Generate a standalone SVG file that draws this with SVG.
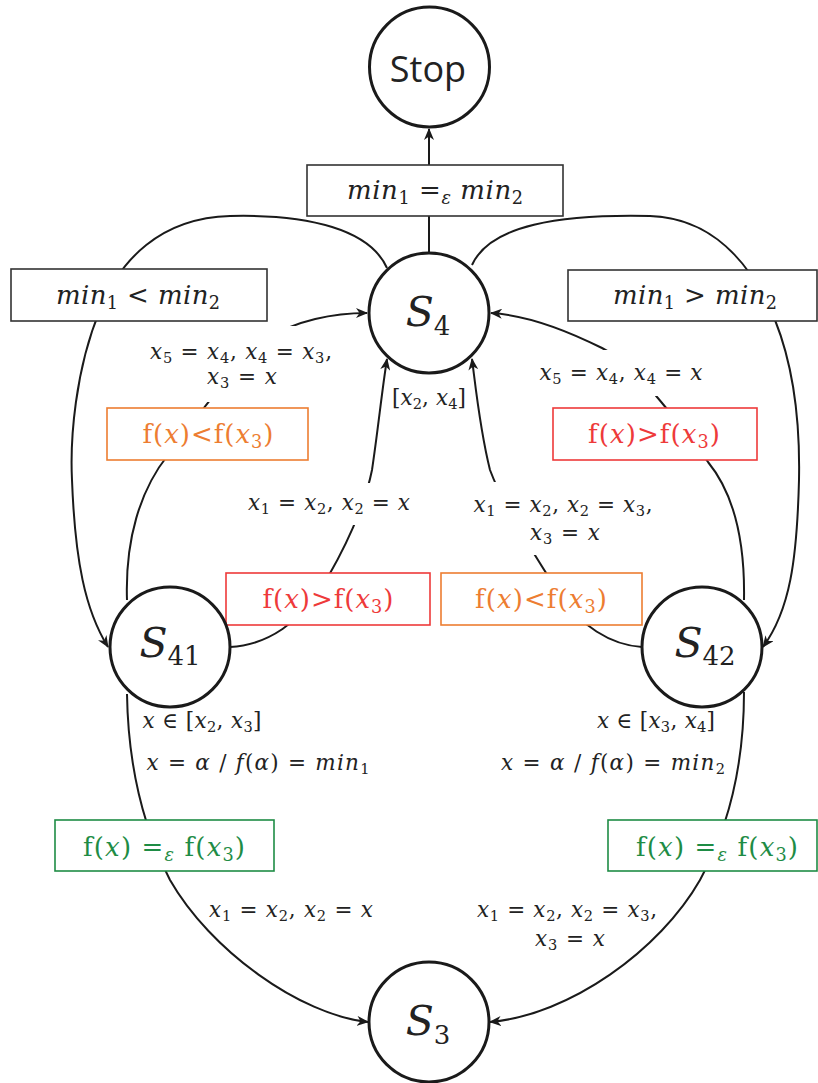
<svg xmlns="http://www.w3.org/2000/svg" width="818" height="1083" viewBox="0 0 818 1083">
<defs>
<marker id="ah" viewBox="0 0 12 10" refX="11" refY="5" markerWidth="12" markerHeight="10" markerUnits="userSpaceOnUse" orient="auto">
<path d="M0,0 L12,5 L0,10 L3.5,5 z" fill="#1a1a1a"/>
</marker>
<style>
.edge{fill:none;stroke:#1a1a1a;stroke-width:2}
.node{fill:#fff;stroke:#1a1a1a;stroke-width:3}
.box{fill:#fff;stroke-width:1.6}
.kb{stroke:#333}
.ob{stroke:#ED7D31}
.rb{stroke:#EE3A3A}
.gb{stroke:#1E8C45}
.bg{fill:#fff;stroke:none}
.m{font-family:"DejaVu Serif",serif;font-style:italic;font-size:21.5px;fill:#222}
.mb{font-family:"DejaVu Serif",serif;font-style:italic;font-size:26px;fill:#222}
.fb{font-family:"DejaVu Serif",serif;font-style:normal;font-size:26px}
.it{font-style:italic}
.up{font-style:normal}
.sb{font-size:0.68em;font-style:normal}
.sbi{font-size:0.68em;font-style:italic}
.ot{fill:#ED7D31}
.rt{fill:#EE3A3A}
.gt{fill:#1E8C45}
.nl{font-family:"DejaVu Serif",serif;font-style:italic;font-size:41px;fill:#222}
.ns{font-size:26px;font-style:normal}
.stop{font-family:"Open Sans",sans-serif;font-size:36px;fill:#222}
</style>
</defs>

<g id="connectors">
<path class="edge" d="M429,253 L429,129" marker-end="url(#ah)"/>
<path class="edge" d="M387,268 C370,230 310,214 230,216 C160,218 120,260 100,310 C75,370 70,440 72,480 C75,560 85,610 108,647" marker-end="url(#ah)"/>
<path class="edge" d="M472,265 C490,225 560,214 650,216 C710,218 750,260 775,320 C795,370 800,430 799,480 C797,560 790,610 763,647" marker-end="url(#ah)"/>
<path class="edge" d="M127,600 C125,540 140,490 168,455 C195,420 230,370 265,340 C295,320 335,313 367,313" marker-end="url(#ah)"/>
<path class="edge" d="M230,647 C270,645 300,620 320,590 C345,550 365,505 372,470 C378,430 382,390 387,359" marker-end="url(#ah)"/>
<path class="edge" d="M642,647 C610,645 580,625 560,595 C535,555 505,510 490,470 C480,430 476,390 472,359" marker-end="url(#ah)"/>
<path class="edge" d="M744,600 C745,545 735,495 708,462 C690,438 675,418 657,397 C640,378 625,360 602,348 C560,327 525,315 491,313" marker-end="url(#ah)"/>
<path class="edge" d="M127,694 C128,760 142,825 170,880 C210,950 300,1015 368,1022" marker-end="url(#ah)"/>
<path class="edge" d="M744,692 C744,760 730,825 700,880 C660,950 570,1015 490,1022" marker-end="url(#ah)"/>
</g>

<g id="edge-labels">
<rect class="bg" x="148" y="326" width="190" height="76"/>
<rect class="bg" x="538" y="350" width="168" height="46"/>
<rect class="bg" x="246" y="483" width="166" height="42"/>
<rect class="bg" x="470" y="482" width="186" height="73"/>

<text class="m" x="241" y="359" text-anchor="middle" textLength="182">x<tspan class="sb" dy="4">5</tspan><tspan class="up" dy="-4"> = </tspan>x<tspan class="sb" dy="4">4</tspan><tspan class="up" dy="-4">, </tspan>x<tspan class="sb" dy="4">4</tspan><tspan class="up" dy="-4"> = </tspan>x<tspan class="sb" dy="4">3</tspan><tspan class="up" dy="-4">,</tspan></text>
<text class="m" x="242" y="384" text-anchor="middle" textLength="70">x<tspan class="sb" dy="4">3</tspan><tspan class="up" dy="-4"> = </tspan>x</text>

<text class="m" x="621" y="380" text-anchor="middle" textLength="163">x<tspan class="sb" dy="4">5</tspan><tspan class="up" dy="-4"> = </tspan>x<tspan class="sb" dy="4">4</tspan><tspan class="up" dy="-4">, </tspan>x<tspan class="sb" dy="4">4</tspan><tspan class="up" dy="-4"> = </tspan>x</text>

<text class="m" x="429" y="405" text-anchor="middle" textLength="74"><tspan class="up">[</tspan>x<tspan class="sb" dy="4">2</tspan><tspan class="up" dy="-4">, </tspan>x<tspan class="sb" dy="4">4</tspan><tspan class="up" dy="-4">]</tspan></text>

<text class="m" x="329" y="510" text-anchor="middle" textLength="162">x<tspan class="sb" dy="4">1</tspan><tspan class="up" dy="-4"> = </tspan>x<tspan class="sb" dy="4">2</tspan><tspan class="up" dy="-4">, </tspan>x<tspan class="sb" dy="4">2</tspan><tspan class="up" dy="-4"> = </tspan>x</text>

<text class="m" x="563" y="512" text-anchor="middle" textLength="179">x<tspan class="sb" dy="4">1</tspan><tspan class="up" dy="-4"> = </tspan>x<tspan class="sb" dy="4">2</tspan><tspan class="up" dy="-4">, </tspan>x<tspan class="sb" dy="4">2</tspan><tspan class="up" dy="-4"> = </tspan>x<tspan class="sb" dy="4">3</tspan><tspan class="up" dy="-4">,</tspan></text>
<text class="m" x="565" y="540" text-anchor="middle" textLength="70">x<tspan class="sb" dy="4">3</tspan><tspan class="up" dy="-4"> = </tspan>x</text>

<text class="m" x="202" y="728" text-anchor="middle" textLength="119">x<tspan class="up"> ∈ [</tspan>x<tspan class="sb" dy="4">2</tspan><tspan class="up" dy="-4">, </tspan>x<tspan class="sb" dy="4">3</tspan><tspan class="up" dy="-4">]</tspan></text>
<text class="m" x="258" y="770" text-anchor="middle" textLength="223">x<tspan class="up"> = </tspan>α<tspan class="up"> / </tspan>f<tspan class="up">(</tspan>α<tspan class="up">) = </tspan>min<tspan class="sb" dy="4">1</tspan></text>

<text class="m" x="656" y="728" text-anchor="middle" textLength="118">x<tspan class="up"> ∈ [</tspan>x<tspan class="sb" dy="4">3</tspan><tspan class="up" dy="-4">, </tspan>x<tspan class="sb" dy="4">4</tspan><tspan class="up" dy="-4">]</tspan></text>
<text class="m" x="613" y="770" text-anchor="middle" textLength="224">x<tspan class="up"> = </tspan>α<tspan class="up"> / </tspan>f<tspan class="up">(</tspan>α<tspan class="up">) = </tspan>min<tspan class="sb" dy="4">2</tspan></text>

<text class="m" x="291" y="917" text-anchor="middle" textLength="164">x<tspan class="sb" dy="4">1</tspan><tspan class="up" dy="-4"> = </tspan>x<tspan class="sb" dy="4">2</tspan><tspan class="up" dy="-4">, </tspan>x<tspan class="sb" dy="4">2</tspan><tspan class="up" dy="-4"> = </tspan>x</text>

<text class="m" x="567" y="917" text-anchor="middle" textLength="180">x<tspan class="sb" dy="4">1</tspan><tspan class="up" dy="-4"> = </tspan>x<tspan class="sb" dy="4">2</tspan><tspan class="up" dy="-4">, </tspan>x<tspan class="sb" dy="4">2</tspan><tspan class="up" dy="-4"> = </tspan>x<tspan class="sb" dy="4">3</tspan><tspan class="up" dy="-4">,</tspan></text>
<text class="m" x="570" y="946" text-anchor="middle" textLength="70">x<tspan class="sb" dy="4">3</tspan><tspan class="up" dy="-4"> = </tspan>x</text>
</g>

<g id="guard-stop">
<rect class="box kb" x="307" y="165" width="256" height="51"/>
<text class="mb" x="435" y="199" text-anchor="middle" textLength="176">min<tspan class="sb" dy="5">1</tspan><tspan class="up" dy="-5"> =</tspan><tspan class="sbi" dy="5">ε</tspan><tspan dy="-5"> min</tspan><tspan class="sb" dy="5">2</tspan></text>
</g>
<g id="guard-lt">
<rect class="box kb" x="11" y="269" width="256" height="52"/>
<text class="mb" x="138" y="304" text-anchor="middle" textLength="164">min<tspan class="sb" dy="5">1</tspan><tspan class="up" dy="-5"> &lt; </tspan>min<tspan class="sb" dy="5">2</tspan></text>
</g>
<g id="guard-gt">
<rect class="box kb" x="568" y="270" width="249" height="51"/>
<text class="mb" x="695" y="304" text-anchor="middle" textLength="164">min<tspan class="sb" dy="5">1</tspan><tspan class="up" dy="-5"> &gt; </tspan>min<tspan class="sb" dy="5">2</tspan></text>
</g>
<g id="guard-41-lt">
<rect class="box ob" x="107" y="408" width="201" height="52"/>
<text class="fb ot" x="208" y="443" text-anchor="middle" textLength="131">f(<tspan class="it">x</tspan>)&lt;f(<tspan class="it">x</tspan><tspan class="sb" dy="5">3</tspan><tspan dy="-5">)</tspan></text>
</g>
<g id="guard-42-gt">
<rect class="box rb" x="553" y="408" width="204" height="52"/>
<text class="fb rt" x="654" y="443" text-anchor="middle" textLength="132">f(<tspan class="it">x</tspan>)&gt;f(<tspan class="it">x</tspan><tspan class="sb" dy="5">3</tspan><tspan dy="-5">)</tspan></text>
</g>
<g id="guard-41-gt">
<rect class="box rb" x="226" y="573" width="204" height="52"/>
<text class="fb rt" x="328" y="608" text-anchor="middle" textLength="131">f(<tspan class="it">x</tspan>)&gt;f(<tspan class="it">x</tspan><tspan class="sb" dy="5">3</tspan><tspan dy="-5">)</tspan></text>
</g>
<g id="guard-42-lt">
<rect class="box ob" x="441" y="573" width="201" height="52"/>
<text class="fb ot" x="541" y="608" text-anchor="middle" textLength="132">f(<tspan class="it">x</tspan>)&lt;f(<tspan class="it">x</tspan><tspan class="sb" dy="5">3</tspan><tspan dy="-5">)</tspan></text>
</g>
<g id="guard-41-eq">
<rect class="box gb" x="55" y="820" width="219" height="51"/>
<text class="fb gt" x="164" y="856" text-anchor="middle" textLength="162">f(<tspan class="it">x</tspan>) =<tspan class="sbi" dy="5">ε</tspan><tspan dy="-5"> f(</tspan><tspan class="it">x</tspan><tspan class="sb" dy="5">3</tspan><tspan dy="-5">)</tspan></text>
</g>
<g id="guard-42-eq">
<rect class="box gb" x="608" y="820" width="209" height="51"/>
<text class="fb gt" x="717" y="856" text-anchor="middle" textLength="162">f(<tspan class="it">x</tspan>) =<tspan class="sbi" dy="5">ε</tspan><tspan dy="-5"> f(</tspan><tspan class="it">x</tspan><tspan class="sb" dy="5">3</tspan><tspan dy="-5">)</tspan></text>
</g>

<g id="node-stop">
<circle class="node" cx="429.5" cy="67" r="60"/>
<text class="stop" x="428" y="82" text-anchor="middle">Stop</text>
</g>
<g id="node-s4">
<circle class="node" cx="429" cy="313" r="60"/>
<text class="nl" x="428" y="326" text-anchor="middle">S<tspan class="ns" dy="9">4</tspan></text>
</g>
<g id="node-s41">
<circle class="node" cx="170" cy="647" r="60"/>
<text class="nl" x="170" y="657" text-anchor="middle">S<tspan class="ns" dy="8">41</tspan></text>
</g>
<g id="node-s42">
<circle class="node" cx="702" cy="647" r="60"/>
<text class="nl" x="705" y="657" text-anchor="middle">S<tspan class="ns" dy="8">42</tspan></text>
</g>
<g id="node-s3">
<circle class="node" cx="429" cy="1022" r="60"/>
<text class="nl" x="428" y="1035" text-anchor="middle">S<tspan class="ns" dy="9">3</tspan></text>
</g>
</svg>
